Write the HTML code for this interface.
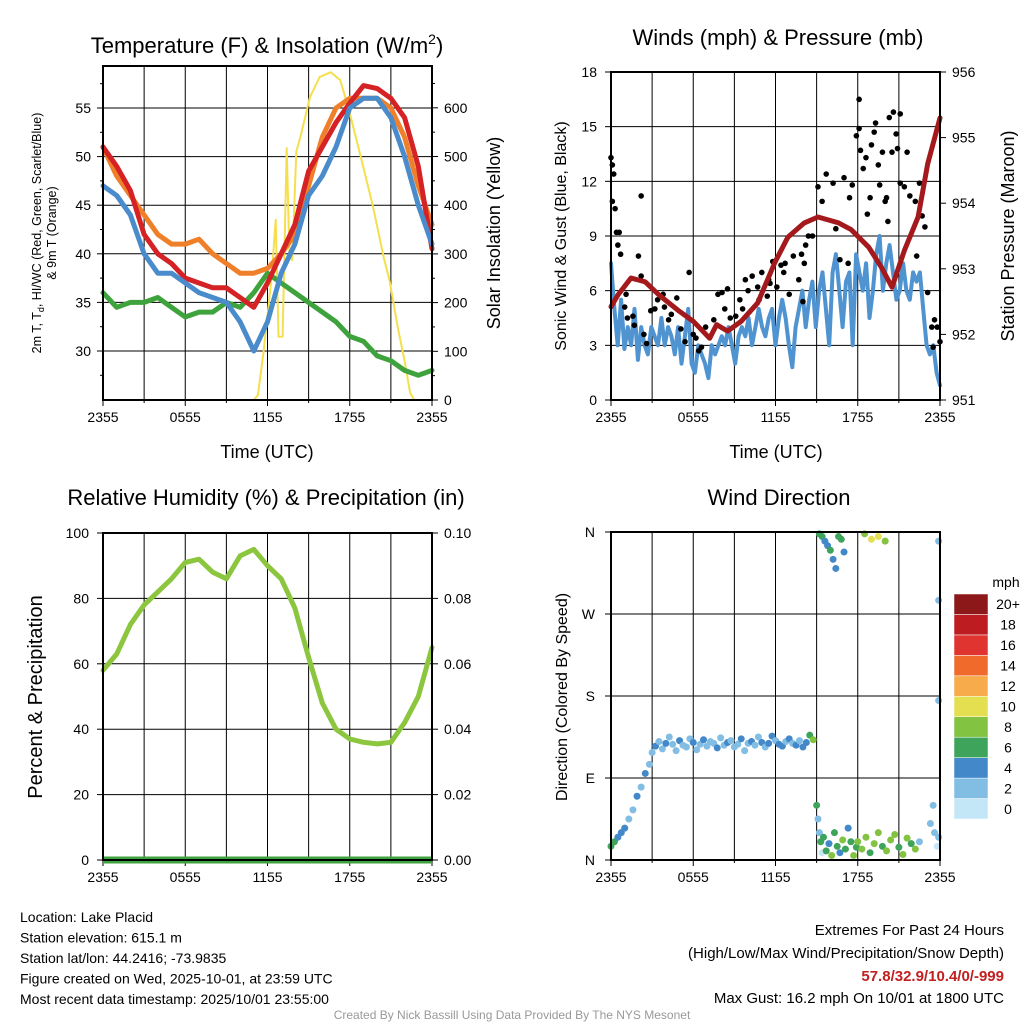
<!DOCTYPE html>
<html><head><meta charset="utf-8">
<style>
body{margin:0;background:#fff;}
svg{display:block;font-family:"Liberation Sans",sans-serif;}
</style></head>
<body>
<svg id="s" width="1024" height="1024" viewBox="0 0 1024 1024" xmlns="http://www.w3.org/2000/svg"></svg>
<script>
// ---------- data ----------
const xTickLabels=["2355","0555","1155","1755","2355"];
const hours=[0,1,2,3,4,5,6,7,8,9,10,11,12,13,14,15,16,17,18,19,20,21,22,23,24];
const tempRed=[51,49,46.5,42,40,39,37.5,37,36.5,36.5,35.5,34.5,37,40,43,48.5,51,53.5,55.5,57.3,57,56,54,49,40.5];
const tempBlue=[47,46,44,40,38,38,37,36,35.5,35,33,30,33,38,41,46,48,51,55,56,56,54,50,45,41];
const tempOrange=[51,48,46,44,42,41,41,41.5,40,39,38,38,38.5,40,42,47,52,55,56,56,56,55,52,47,43];
const tempGreen=[36,34.5,35,35,35.5,34.5,33.5,34,34,35,34.5,36,38,37,36,35,34,33,31.5,31,29.5,29,28,27.5,28];
const insolT=[0,11.0,11.3,11.7,12.3,12.6,12.8,13.1,13.4,13.6,13.8,14.1,14.4,15.1,15.8,16.6,17.3,17.9,18.8,19.7,20.5,20.9,21.5,22.0,22.4,22.7,24];
const insolV=[0,0,10,96,252,370,130,130,517,300,287,510,540,622,663,673,657,600,500,396,290,246,150,80,15,0,0];
const tempTicks=[30,35,40,45,50,55];
const insolTicks=[0,100,200,300,400,500,600];

const windV=[7.5,5,3,5.5,2.8,4,3,5,2.2,4,3,2.5,4,3.5,3,4.5,3,4,3.5,2.5,4,2,3.5,5,2,1.5,3,2.5,2,1.2,3,2.5,3,3.5,3,4,3,2,3.5,4,3.5,4.5,3,4,5,4,3.5,4.5,5,3,4.5,5.5,4.5,3,1.8,4,5,6,4,5.5,6.5,4,6,7,5,3,7,8,6,4,6.5,7,3,8,7,6,7.5,4.5,6,8,9,6,7.5,8.5,7,5.5,6,7.5,6,5.5,7,6.5,7,5,3,2.5,3,1.5,0.8];
const windT=windV.map((v,i)=>i*24/(windV.length-1));
const gustT=[0,0.1,0.2,0.1,0.3,0.4,0.6,0.5,0.7,1.1,1.0,1.2,1.6,1.7,2.2,2.0,2.2,2.4,2.6,2.9,3.2,3.4,3.8,3.9,4.2,4.4,4.8,5.1,5.4,5.7,6.0,6.2,6.4,6.6,6.9,7.5,7.8,8.1,8.5,8.3,8.7,9.1,9.4,9.6,9.8,10.0,10.3,10.7,10.8,11.0,11.4,11.5,11.6,11.8,12.1,12.4,12.6,12.7,13.0,13.3,13.7,13.9,14.1,14.0,14.2,14.4,14.7,15.1,15.4,15.7,16.2,16.4,16.7,17.0,17.3,17.4,17.6,17.9,18.1,18.1,18.4,18.2,18.6,18.9,18.7,19.0,19.2,19.3,19.5,19.6,19.8,20.0,20.1,20.2,20.3,20.6,20.8,20.5,20.9,21.1,21.1,21.4,21.6,21.8,22.2,22.5,22.7,22.9,22.3,23.1,23.4,23.6,23.8,23.5,24.0];
const gustV=[13.3,12.9,12.4,10.9,10.5,9.2,9.2,8.5,8.0,5.8,5.1,4.5,4.6,4.1,11.2,7.9,6.8,3.6,3.1,4.9,5.0,5.5,5.8,5.1,4.4,4.7,5.6,3.9,3.2,7.0,3.6,3.4,2.7,2.9,4.0,4.4,5.8,5.9,6.1,5.0,4.5,4.6,5.5,5.0,6.6,6.0,6.8,6.2,5.5,7.0,5.7,6.6,6.4,7.6,6.2,7.4,7.0,7.5,5.8,7.9,6.6,8.0,7.5,5.4,8.5,9.0,9.0,11.7,10.9,12.4,11.9,9.4,7.7,12.2,7.5,11.1,11.8,14.5,14.9,16.5,12.7,13.7,13.3,11.1,10.2,14.0,14.7,15.2,12.9,11.8,13.6,10.9,11.1,9.8,15.5,15.8,14.6,13.6,13.8,15.7,11.9,11.7,13.6,11.2,10.9,11.9,10.1,9.5,7.9,5.9,4.0,4.4,4.0,2.9,3.2];
const pressT=[0,0.5,1.46,2.5,3.5,5,6,7.2,7.7,8.5,9.5,10.7,11.96,12.9,14.1,15.1,16.6,17.5,18.8,19.7,20.5,21.4,22.4,23.1,24];
const pressV=[952.42,952.6,952.86,952.8,952.6,952.35,952.2,951.94,952.15,952.05,952.2,952.48,953.1,953.48,953.7,953.79,953.7,953.6,953.33,953.03,952.72,953.28,953.79,954.6,955.3];
const windTicks=[0,3,6,9,12,15,18];
const pressTicks=[951,952,953,954,955,956];

const rhV=[58,63,72,78,82,86,91,92,88,86,93,95,90,86,77,62,48,40,37,36,35.5,36,42,50,65];
const rhTicks=[0,20,40,60,80,100];
const pcpTicks=["0.00","0.02","0.04","0.06","0.08","0.10"];

const dirT=[0,0.25,0.5,0.75,1,1.3,1.6,1.9,2.2,2.5,2.8,
3,3.25,3.5,3.75,4,4.25,4.5,4.75,5,5.25,5.5,5.75,6,6.25,6.5,6.75,7,7.25,7.5,7.75,8,8.25,8.5,8.75,9,9.25,9.5,9.75,10,10.25,10.5,10.75,11,11.25,11.5,11.75,12,12.25,12.5,12.75,13,13.25,13.5,13.75,14,14.25,14.5,14.75,
15,15.1,15.2,15.3,15.4,
15.5,15.7,15.9,16.1,16.3,16.5,16.7,16.9,17.1,17.3,17.5,17.7,17.9,
15.2,15.4,15.6,15.8,16,16.2,16.4,16.6,16.8,17,
18,18.3,18.6,18.9,19.2,19.5,19.8,20.1,20.4,20.7,21,21.3,21.6,21.9,22.2,22.5,
18.5,19,19.5,20,
23.3,23.5,23.6,23.8,23.9,23.9,23.9,23.9];
const dirV=[15,20,25,30,35,45,55,70,80,95,105,
118,125,130,122,128,135,127,120,131,126,124,133,129,121,127,132,125,130,128,123,134,126,129,131,124,127,133,120,128,130,126,135,129,124,128,136,131,127,125,130,133,128,126,131,124,129,137,132,
60,45,30,20,8,
25,10,18,5,30,15,8,22,12,35,20,5,14,
358,355,350,345,340,330,320,355,352,338,
20,12,25,8,18,30,15,10,22,28,14,6,24,18,12,20,
358,352,355,350,
40,60,30,15,350,285,175,25];
const dirS=[7,6,5,5,4,3,3,4,3,4,2,
3,4,2,3,4,2,3,2,4,3,2,3,4,2,3,4,2,3,2,4,3,2,4,3,2,3,4,3,2,4,3,2,4,3,5,4,3,4,5,3,4,2,4,3,4,5,7,8,
7,3,2,6,1,
6,7,5,8,6,7,4,8,6,5,7,8,6,
6,7,5,4,6,4,4,7,6,5,
8,9,8,7,8,9,7,8,9,8,6,9,8,7,8,3,
8,10,10,9,
2,3,2,1,2,3,2,2];
const dirTicks=["N","E","S","W","N"];
const cbLabels=["0","2","4","6","8","10","12","14","16","18","20+"];
const cbColors=["#c4e7f7","#82bde4","#4388c8","#3fa45b","#82c341","#e4df50","#f8ab4a","#ef6a2b","#df3430","#bd1d21","#8c1819"];

// ---------- helpers ----------
const S=document.getElementById('s');
const NS="http://www.w3.org/2000/svg";
function mk(tag,attrs,parent){const e=document.createElementNS(NS,tag);for(const k in attrs)e.setAttribute(k,attrs[k]);(parent||S).appendChild(e);return e;}
function txt(x,y,str,size,anchor,parent,extra){const e=mk('text',Object.assign({x:x,y:y,'font-size':size,'text-anchor':anchor||'middle',fill:'#000'},extra||{}),parent);e.textContent=str;return e;}

function panel(name,x0,y0,x1,y1){
  const g=mk('g',{});
  
  
  const sx=t=>x0+(x1-x0)*t/24;
  for(let h=3;h<24;h+=3){const l=mk('line',{x1:sx(h),x2:sx(h),y1:y0,y2:y1,stroke:'#000','stroke-width':1},g);}
  xTickLabels.forEach((lb,i)=>{const x=sx(i*6);mk('line',{x1:x,x2:x,y1:y1,y2:y1+6,stroke:'#000'},g);
    const t=txt(x,y1+22,lb,14,'middle',g);});
  for(let h=3;h<24;h+=6){mk('line',{x1:sx(h),x2:sx(h),y1:y1,y2:y1+3,stroke:'#000'},g);}
  return {g,sx};
}
function frame(g,x0,y0,x1,y1){const r=mk('rect',{x:x0,y:y0,width:x1-x0,height:y1-y0,fill:'none',stroke:'#000','stroke-width':2},g);}
function hgrid(g,x0,x1,y){mk('line',{x1:x0,x2:x1,y1:y,y2:y,stroke:'#000','stroke-width':1},g);}
function poly(g,xs,ys,color,w,name){const pts=xs.map((x,i)=>x.toFixed(1)+','+ys[i].toFixed(1)).join(' ');const p=mk('polyline',{points:pts,fill:'none',stroke:color,'stroke-width':w,'stroke-linejoin':'round','stroke-linecap':'round'},g);return p;}

// ---------- Panel 1: Temperature ----------
(function(){
  const x0=103,y0=66,x1=432,y1=400;
  const P=panel('temperature-panel',x0,y0,x1,y1);const g=P.g,sx=P.sx;
  const sy=v=>351+(30-v)*9.72;
  const sy2=v=>400-v*0.487;
  tempTicks.forEach(v=>{hgrid(g,x0,x1,sy(v));mk('line',{x1:x0-6,x2:x0,y1:sy(v),y2:sy(v),stroke:'#000'},g);
    const t=txt(x0-12,sy(v)+5,String(v),14,'end',g);});
  for(let v=27.5;v<59;v+=5){mk('line',{x1:x0-3,x2:x0,y1:sy(v),y2:sy(v),stroke:'#000'},g);}
  insolTicks.forEach(v=>{mk('line',{x1:x1,x2:x1+6,y1:sy2(v),y2:sy2(v),stroke:'#000'},g);
    const t=txt(x1+12,sy2(v)+5,String(v),14,'start',g);});
  for(let v=50;v<680;v+=100){mk('line',{x1:x1,x2:x1+3,y1:sy2(v),y2:sy2(v),stroke:'#000'},g);}
  poly(g,insolT.map(sx),insolV.map(sy2),'#f5df4d',2,'insolation-line');
  poly(g,hours.map(sx),tempGreen.map(sy),'#3fa33d',5,'dewpoint-line');
  poly(g,hours.map(sx),tempOrange.map(sy),'#f07f2a',5,'temp-9m-line');
  poly(g,hours.map(sx),tempRed.map(sy),'#d42225',5,'heat-index-line');
  poly(g,hours.map(sx),tempBlue.map(sy),'#4a8ccb',5,'temp-2m-line');
  frame(g,x0,y0,x1,y1);
  const ti=txt(267,53,'',22,'middle',g);ti.innerHTML='Temperature (F) &amp; Insolation (W/m<tspan font-size="14" dy="-9">2</tspan><tspan dy="9">)</tspan>';
  
  const xl=txt(267,458,'Time (UTC)',18,'middle',g);
  const yl=mk('text',{transform:'translate(41,233) rotate(-90)','font-size':12.5,'text-anchor':'middle'},g);
  yl.innerHTML='2m T, T<tspan font-size="9" dy="3">d</tspan><tspan dy="-3">, HI/WC (Red, Green, Scarlet/Blue)</tspan>';
  
  const yl2=txt(0,0,'& 9m T (Orange)',12.5,'middle',g,{transform:'translate(56,233) rotate(-90)'});
  const yr=txt(0,0,'Solar Insolation (Yellow)',18,'middle',g,{transform:'translate(500,233) rotate(-90)'});
})();

// ---------- Panel 2: Winds ----------
(function(){
  const x0=611,y0=72,x1=940,y1=400;
  const P=panel('winds-panel',x0,y0,x1,y1);const g=P.g,sx=P.sx;
  const sy=v=>400-v*(328/18);
  const sy2=v=>400-(v-951)*(328/5);
  windTicks.forEach(v=>{hgrid(g,x0,x1,sy(v));mk('line',{x1:x0-6,x2:x0,y1:sy(v),y2:sy(v),stroke:'#000'},g);
    const t=txt(x0-14,sy(v)+5,String(v),14,'end',g);});
  pressTicks.forEach(v=>{mk('line',{x1:x1,x2:x1+6,y1:sy2(v),y2:sy2(v),stroke:'#000'},g);
    const t=txt(x1+12,sy2(v)+5,String(v),14,'start',g);});
  poly(g,windT.map(sx),windV.map(sy),'#4f93d0',4,'sonic-wind-line');
  gustT.forEach((t,i)=>{const c=mk('circle',{cx:sx(t),cy:sy(gustV[i]),r:2.8,fill:'#000'},g);
    });
  poly(g,pressT.map(sx),pressV.map(sy2),'#a3191c',5,'pressure-line');
  frame(g,x0,y0,x1,y1);
  const ti=txt(778,45,'Winds (mph) & Pressure (mb)',22,'middle',g);
  const xl=txt(776,458,'Time (UTC)',18,'middle',g);
  const yl=txt(0,0,'Sonic Wind & Gust (Blue, Black)',16,'middle',g,{transform:'translate(566,236) rotate(-90)'});
  const yr=txt(0,0,'Station Pressure (Maroon)',18,'middle',g,{transform:'translate(1014,236) rotate(-90)'});
})();

// ---------- Panel 3: RH ----------
(function(){
  const x0=103,y0=533,x1=432,y1=860;
  const P=panel('humidity-panel',x0,y0,x1,y1);const g=P.g,sx=P.sx;
  const sy=v=>860-v*3.27;
  rhTicks.forEach((v,i)=>{hgrid(g,x0,x1,sy(v));mk('line',{x1:x0-6,x2:x0,y1:sy(v),y2:sy(v),stroke:'#000'},g);
    mk('line',{x1:x1,x2:x1+6,y1:sy(v),y2:sy(v),stroke:'#000'},g);
    const t=txt(x0-14,sy(v)+5,String(v),14,'end',g);
    const t2=txt(x1+12,sy(v)+5,pcpTicks[i],14,'start',g);});
  poly(g,hours.map(sx),rhV.map(sy),'#8cc63f',5,'humidity-line');
  const pl=mk('line',{x1:x0,x2:x1,y1:860,y2:860,stroke:'#3fa33d','stroke-width':7},g);
  frame(g,x0,y0,x1,y1);
  const ti=txt(266,505,'Relative Humidity (%) & Precipitation (in)',22,'middle',g);
  const yl=txt(0,0,'Percent & Precipitation',20,'middle',g,{transform:'translate(42,697) rotate(-90)'});
})();

// ---------- Panel 4: Wind direction ----------
(function(){
  const x0=611,y0=532,x1=940,y1=860;
  const P=panel('wind-direction-panel',x0,y0,x1,y1);const g=P.g,sx=P.sx;
  const sy=v=>860-v*(328/360);
  dirTicks.forEach((lb,i)=>{const y=sy(i*90);hgrid(g,x0,x1,y);mk('line',{x1:x0-6,x2:x0,y1:y,y2:y,stroke:'#000'},g);
    const t=txt(x0-16,y+5,lb,14,'end',g);});
  const col=s=>cbColors[Math.min(10,Math.floor(s/2))];
  dirT.forEach((t,i)=>{const c=mk('circle',{cx:sx(t),cy:sy(dirV[i]),r:3.5,fill:col(dirS[i])},g);
    });
  frame(g,x0,y0,x1,y1);
  const ti=txt(779,505,'Wind Direction',22,'middle',g);
  const yl=txt(0,0,'Direction (Colored By Speed)',16,'middle',g,{transform:'translate(567,697) rotate(-90)'});
  const cb=mk('g',{});
  const bh=225/11;
  cbColors.forEach((c,i)=>{const y=819-(i+1)*bh;mk('rect',{x:954,y:y,width:34,height:bh,fill:c,stroke:'#fff','stroke-width':0.5},cb);
    const t=txt(1008,y+bh/2+5,cbLabels[i],14,'middle',cb);});
  const u=txt(1006,587,'mph',14,'middle',cb);
})();

// ---------- footer ----------
(function(){
  const g=mk('g',{});
  ["Location: Lake Placid","Station elevation: 615.1 m","Station lat/lon: 44.2416; -73.9835","Figure created on Wed, 2025-10-01, at 23:59 UTC","Most recent data timestamp: 2025/10/01 23:55:00"].forEach((s,i)=>{txt(20,922+i*20.5,s,14,'start',g);});
  const g2=mk('g',{});
  txt(1004,935,'Extremes For Past 24 Hours',15,'end',g2);
  txt(1004,958,'(High/Low/Max Wind/Precipitation/Snow Depth)',15,'end',g2);
  txt(1004,981,'57.8/32.9/10.4/0/-999',15,'end',g2,{fill:'#c0201f','font-weight':'bold'});
  txt(1004,1003,'Max Gust: 16.2 mph On 10/01 at 1800 UTC',15,'end',g2);
  const c=txt(512,1019,'Created By Nick Bassill Using Data Provided By The NYS Mesonet',12,'middle');c.setAttribute('fill','#999');
  
})();
</script>
</body></html>
